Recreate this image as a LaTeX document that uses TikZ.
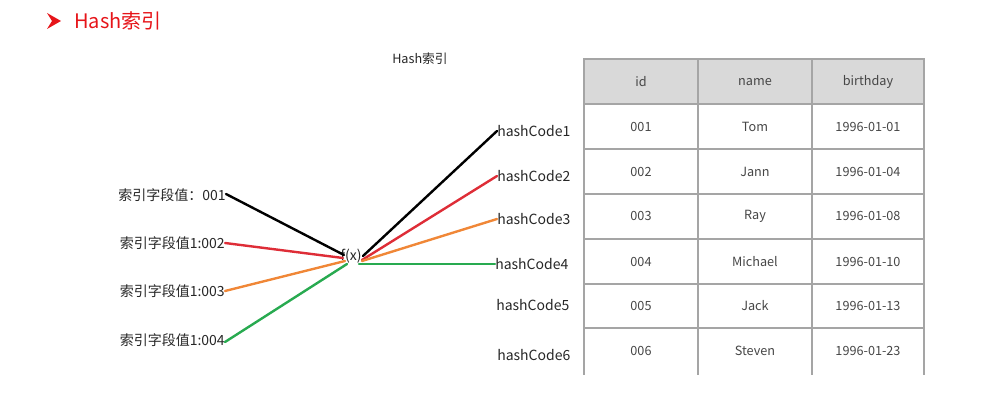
\documentclass[tikz,border=0pt]{standalone}
\usepackage{fontspec}
\setmainfont{Noto Sans CJK SC}
\definecolor{tred}{RGB}{230,20,25}
\definecolor{lred}{RGB}{222,45,55}
\definecolor{lorange}{RGB}{240,135,55}
\definecolor{lgreen}{RGB}{40,170,80}
\definecolor{tgrid}{RGB}{165,165,165}
\definecolor{thead}{RGB}{217,217,217}
\definecolor{ttext}{RGB}{70,70,70}
\begin{document}
\begin{tikzpicture}[x=0.75pt,y=-0.75pt,
  lbl/.style={inner sep=0pt,font=\fontsize{10.5}{12}\selectfont,text=black!85},
  cell/.style={inner sep=0pt,font=\fontsize{9.5}{11}\selectfont,text=ttext},
  conn/.style={line width=1.8pt,line cap=round}]
\useasboundingbox (0,0) rectangle (1001,406);
% title
\fill[tred] (47,13) -- (61,21) -- (47,29) -- (52,21) -- cycle;
\node[anchor=west,inner sep=0pt,text=tred,font=\fontsize{15}{18}\selectfont] (title) at (74,21) {Hash索引};
\node[lbl,anchor=west,font=\fontsize{9.5}{11}\selectfont] (sub) at (392,59) {Hash索引};
% left labels
\node[lbl,anchor=east] (a1) at (226,195) {索引字段值：001};
\node[lbl,anchor=east] (a2) at (225,243) {索引字段值1:002};
\node[lbl,anchor=east] (a3) at (225,291) {索引字段值1:003};
\node[lbl,anchor=east] (a4) at (225,340) {索引字段值1:004};
% f(x)
\node[lbl] (fx) at (351,256) {f(x)};
\coordinate (i1) at (344,255);
\coordinate (i2) at (343,258);
\coordinate (i3) at (345,261);
\coordinate (i4) at (347,264);
\coordinate (o1) at (363,256);
\coordinate (o2) at (362,260);
\coordinate (o3) at (362,261);
\coordinate (o4) at (359,264);
% right labels
\node[lbl,anchor=west] (h1) at (497,131) {hashCode1};
\node[lbl,anchor=west] (h2) at (497,176) {hashCode2};
\node[lbl,anchor=west] (h3) at (497,219) {hashCode3};
\node[lbl,anchor=west] (h4) at (495,264) {hashCode4};
\node[lbl,anchor=west] (h5) at (496,305) {hashCode5};
\node[lbl,anchor=west] (h6) at (497,355) {hashCode6};
% connectors
\draw[conn,black] (a1.east) ++(0,-1) -- (i1);
\draw[conn,lred] (a2.east) -- (i2);
\draw[conn,lorange] (a3.east) -- (i3);
\draw[conn,lgreen] (a4.east) ++(0,2) -- (i4);
\draw[conn,black] (o1) -- (h1.west);
\draw[conn,lred] (o2) -- (h2.west);
\draw[conn,lorange] (o3) -- (h3.west);
\draw[conn,lgreen] (o4) -- (h4.west);
% table
\fill[thead] (584,59) rectangle (924,104);
\foreach \y in {104,149,194,239,284,328} \draw[tgrid,line width=0.8pt] (584,\y) -- (924,\y);
\draw[tgrid,line width=0.9pt] (584,375) -- (584,59) -- (924,59) -- (924,375);
\foreach \x in {698,812} \draw[tgrid,line width=0.8pt] (\x,59) -- (\x,375);
\node[cell] (c01) at (641,82) {id};
\node[cell] (c02) at (755,82) {name};
\node[cell] (c03) at (868,82) {birthday};
\node[cell] (c11) at (641,127) {001};
\node[cell] (c12) at (755,127) {Tom};
\node[cell] (c13) at (868,127) {1996-01-01};
\node[cell] (c21) at (641,172) {002};
\node[cell] (c22) at (755,172) {Jann};
\node[cell] (c23) at (868,172) {1996-01-04};
\node[cell] (c31) at (641,216) {003};
\node[cell] (c32) at (755,216) {Ray};
\node[cell] (c33) at (868,216) {1996-01-08};
\node[cell] (c41) at (641,262) {004};
\node[cell] (c42) at (755,262) {Michael};
\node[cell] (c43) at (868,262) {1996-01-10};
\node[cell] (c51) at (641,306) {005};
\node[cell] (c52) at (755,306) {Jack};
\node[cell] (c53) at (868,306) {1996-01-13};
\node[cell] (c61) at (641,351) {006};
\node[cell] (c62) at (755,351) {Steven};
\node[cell] (c63) at (868,351) {1996-01-23};
\end{tikzpicture}
\end{document}
